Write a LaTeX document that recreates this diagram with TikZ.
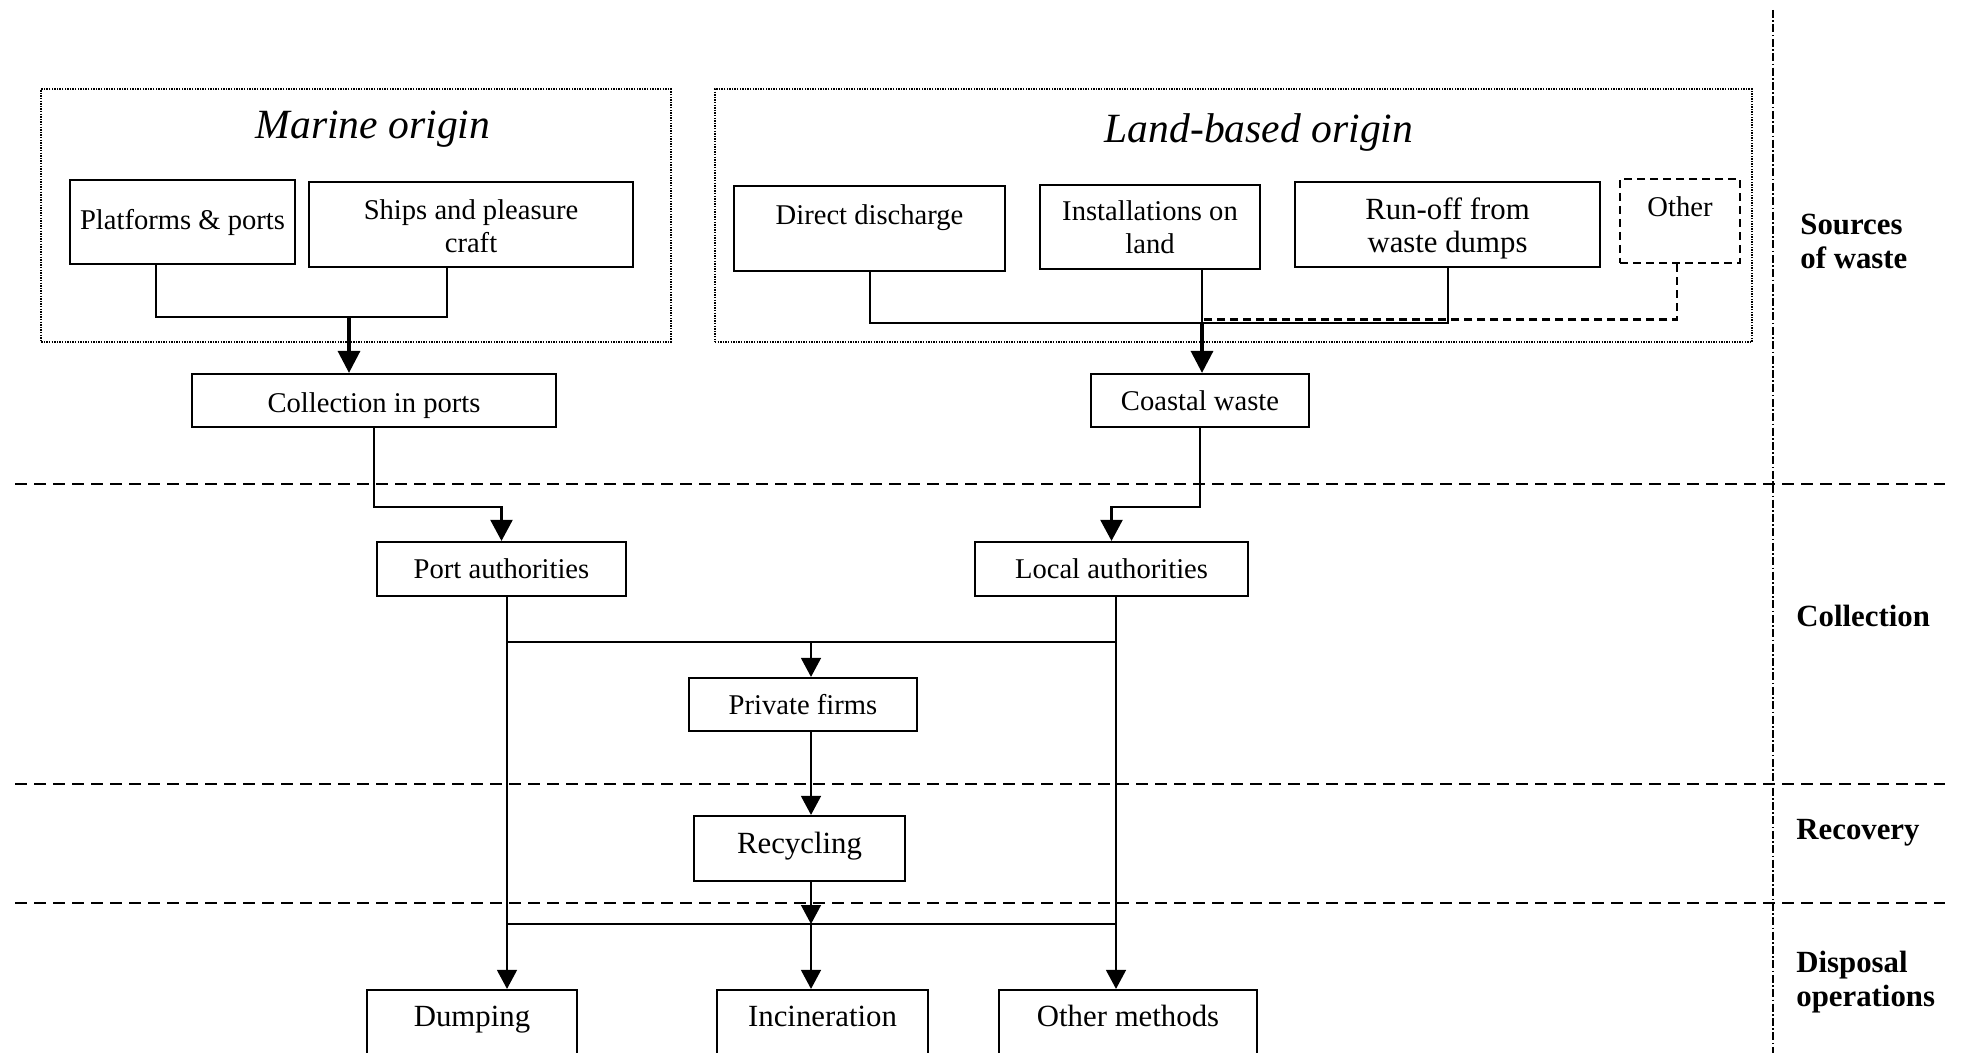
\documentclass[tikz,border=0pt]{standalone}
\usepackage{fontspec}
\setmainfont{Liberation Serif}
\usetikzlibrary{arrows.meta,calc}
\begin{document}
\begin{tikzpicture}[x=0.5pt,y=-0.5pt,
  box/.style={draw, line width=1.1pt, inner sep=0pt, align=center, font=\fontsize{14.3}{16.5}\selectfont},
  bigbox/.style={box, font=\fontsize{15.4}{16.5}\selectfont},
  title/.style={font=\fontsize{20.8}{24}\selectfont\itshape, inner sep=0pt},
  side/.style={font=\fontsize{15.4}{17}\selectfont\bfseries, align=left, anchor=west, inner sep=0pt},
  group/.style={draw, line width=0.8pt, dash pattern=on 0.7pt off 0.6pt, inner sep=0pt},
  conn/.style={line width=1.1pt},
  flow/.style={line width=0.75pt},
  arr/.style={flow, -{Triangle[length=9.5pt,width=10pt]}},
  arrb/.style={conn, -{Triangle[length=10.5pt,width=11pt]}},
  thickarr/.style={line width=1.7pt, -{Triangle[length=11pt,width=11pt]}},
  sep/.style={line width=1pt, dash pattern=on 6pt off 3.5pt},
  vsep/.style={line width=0.9pt, dash pattern=on 4pt off 1.2pt on 0.8pt off 1.2pt},
  otherdash/.style={dash pattern=on 4pt off 2.5pt}
]
\clip (0,0) rectangle (1962,1053);

% groups
\node[group, minimum width=314.75pt, minimum height=126.5pt] (marine) at (356,215.5) {};
\node[group, minimum width=518.5pt, minimum height=126.5pt] (land) at (1233.5,215.5) {};
\node[title] (marinetitle) at (373,129) {Marine origin};
\node[title] (landtitle) at (1259,132) {Land-based origin};

% source boxes
\node[box, minimum width=112.5pt, minimum height=42pt] (plat) at (182.5,222) {Platforms \& ports};
\node[box, minimum width=162pt, text height=35.25pt, text depth=7.25pt] (ships) at (471,224.5) {Ships and pleasure\\ craft};
\node[box, minimum width=135.5pt, text height=19.5pt, text depth=23pt] (dd) at (869.5,228.5) {Direct discharge};
\node[box, minimum width=110pt, minimum height=42pt] (inst) at (1150,227) {Installations on\\land};
\node[bigbox, minimum width=152.5pt, text height=35.25pt, text depth=7.25pt] (runoff) at (1447.5,224.5) {Run-off from\\waste dumps};
\node[box, otherdash, minimum width=60pt, text height=19pt, text depth=23pt] (other) at (1680,221) {Other};

% collection
\node[box, minimum width=182pt, text height=19.1pt, text depth=7.4pt] (coll) at (374,400.5) {Collection in ports};
\node[box, minimum width=109pt, minimum height=26.5pt] (coastal) at (1200,400.5) {Coastal waste};
\node[box, minimum width=124.5pt, minimum height=27pt] (port) at (501.5,569) {Port authorities};
\node[box, minimum width=136.5pt, minimum height=27pt] (local) at (1111.5,569) {Local authorities};
\node[box, minimum width=114pt, minimum height=26.5pt] (priv) at (803,704.5) {Private firms};
\node[bigbox, minimum width=105.5pt, text height=18.6pt, text depth=13.9pt] (recyc) at (799.5,848.5) {Recycling};

% disposal
\node[bigbox, minimum width=105pt, text height=18.25pt, text depth=36.75pt] (dump) at (472,1045) {Dumping};
\node[bigbox, minimum width=105.5pt, text height=18.25pt, text depth=36.75pt] (incin) at (822.5,1045) {Incineration};
\node[bigbox, minimum width=129pt, text height=18.25pt, text depth=36.75pt] (othm) at (1128,1045) {Other methods};

% separators
\draw[sep] (15,484) -- (1945,484);
\draw[sep] (15,784) -- (1945,784);
\draw[sep] (15,903) -- (1945,903);
\draw[vsep] (1773,10) -- (1773,1053);

% side labels
\node[side] (lsources) at (1800,241) {Sources\\of waste};
\node[side] (lcoll) at (1796,616) {Collection};
\node[side] (lrec) at (1796,833) {Recovery};
\node[side] (ldisp) at (1796,982) {Disposal\\operations};

% helper coordinates
\coordinate (mx1) at (156,0);
\coordinate (mx2) at (447,0);
\coordinate (mh) at (0,317);
\coordinate (marr) at (349,0);
\coordinate (lx1) at (870,0);
\coordinate (lx2) at (1202,0);
\coordinate (lx3) at (1448,0);
\coordinate (lx4) at (1677,0);
\coordinate (lh) at (0,323);
\coordinate (lhd) at (0,319.5);
\coordinate (j1) at (0,507);
\coordinate (pl) at (507,0);
\coordinate (lr) at (1116,0);
\coordinate (mc) at (811,0);
\coordinate (h1) at (0,642);
\coordinate (h2) at (0,924);

% marine connectors
\draw[conn] (mx1 |- plat.south) -- (mx1 |- mh) -- (mx2 |- mh) -- (mx2 |- ships.south);
\draw[thickarr] (marr |- mh) -- (marr |- coll.north);

% land connectors
\draw[conn] (lx1 |- dd.south) -- (lx1 |- lh) -- (lx3 |- lh) -- (lx3 |- runoff.south);
\draw[conn] (lx2 |- inst.south) -- (lx2 |- lh);
\draw[conn, otherdash] (lx4 |- other.south) -- (lx4 |- lhd) -- (lx2 |- lhd);
\draw[thickarr] (lx2 |- lh) -- (lx2 |- coastal.north);

% to authorities
\draw[arrb] (coll.south) |- (j1 -| port.north) -- (port.north);
\draw[arrb] (coastal.south) |- (j1 -| local.north) -- (local.north);

% flows
\draw[arr] (pl |- port.south) -- (pl |- dump.north);
\draw[arr] (lr |- local.south) -- (lr |- othm.north);
\draw[flow] (pl |- h1) -- (lr |- h1);
\draw[arr] (mc |- h1) -- (mc |- priv.north);
\draw[arr] (mc |- priv.south) -- (mc |- recyc.north);
\draw[arr] (mc |- recyc.south) -- (mc |- h2);
\draw[flow] (pl |- h2) -- (lr |- h2);
\draw[arr] (mc |- h2) -- (mc |- incin.north);
\end{tikzpicture}
\end{document}
